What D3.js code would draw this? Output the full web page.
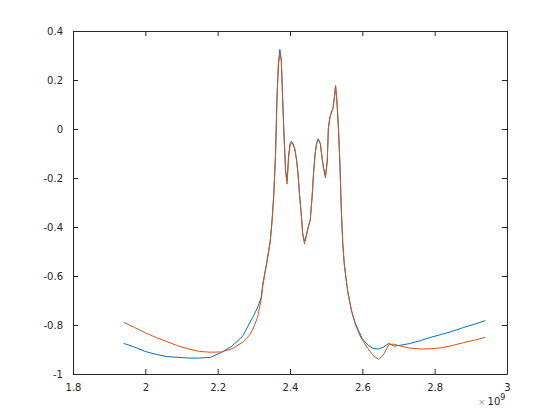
<!DOCTYPE html>
<html>
<head>
<meta charset="utf-8">
<script src="https://cdn.jsdelivr.net/npm/d3@7"></script>
<style>
  body { margin: 0; background: #fff; }
  svg text { font-family: "DejaVu Sans", sans-serif; font-size: 10px; fill: #262626; }
</style>
</head>
<body>
<script>
// frequency in units of 1e9 (Hz)
var freq = [1.94, 1.97, 2.00, 2.03, 2.06, 2.09, 2.12, 2.15, 2.18, 2.21, 2.24, 2.27, 2.29, 2.30, 2.31, 2.32,
  2.325, 2.33, 2.335, 2.34, 2.345, 2.35, 2.355, 2.36, 2.364, 2.368, 2.372, 2.376, 2.38, 2.384, 2.388, 2.392,
  2.396, 2.40, 2.404, 2.408, 2.413, 2.418, 2.422, 2.426, 2.431, 2.435, 2.44, 2.445, 2.45, 2.456, 2.461, 2.465,
  2.469, 2.473, 2.478, 2.484, 2.489, 2.493, 2.498, 2.503, 2.506, 2.51, 2.514, 2.519, 2.523, 2.526, 2.53, 2.534,
  2.538, 2.542, 2.546, 2.55, 2.555, 2.56, 2.57, 2.58, 2.59, 2.60, 2.615, 2.63, 2.645, 2.66, 2.673, 2.687,
  2.70, 2.73, 2.76, 2.79, 2.82, 2.85, 2.88, 2.91, 2.94];

var blueVals = [-0.875, -0.890, -0.908, -0.920, -0.929, -0.932, -0.935, -0.935, -0.932, -0.912, -0.886, -0.844, -0.787, -0.760, -0.730, -0.690,
  -0.630, -0.590, -0.550, -0.505, -0.460, -0.380, -0.270, -0.100, 0.130, 0.270, 0.325, 0.280, 0.110, -0.045, -0.170, -0.210,
  -0.110, -0.060, -0.050, -0.062, -0.080, -0.125, -0.180, -0.260, -0.345, -0.425, -0.458, -0.435, -0.400, -0.370, -0.280, -0.180,
  -0.105, -0.062, -0.040, -0.060, -0.120, -0.160, -0.190, -0.130, 0.000, 0.045, 0.066, 0.085, 0.135, 0.175, 0.110, 0.000,
  -0.140, -0.330, -0.470, -0.550, -0.610, -0.665, -0.740, -0.790, -0.825, -0.855, -0.882, -0.896, -0.898, -0.889, -0.875, -0.886,
  -0.884, -0.876, -0.864, -0.850, -0.838, -0.825, -0.810, -0.797, -0.782];

var orangeVals = [-0.789, -0.810, -0.832, -0.851, -0.868, -0.885, -0.898, -0.908, -0.911, -0.910, -0.897, -0.870, -0.838, -0.808, -0.770, -0.700,
  -0.640, -0.595, -0.555, -0.510, -0.465, -0.385, -0.275, -0.110, 0.120, 0.260, 0.310, 0.280, 0.110, -0.045, -0.180, -0.225,
  -0.120, -0.070, -0.058, -0.058, -0.078, -0.125, -0.180, -0.262, -0.345, -0.428, -0.470, -0.440, -0.405, -0.372, -0.280, -0.185,
  -0.110, -0.065, -0.040, -0.062, -0.125, -0.165, -0.200, -0.135, 0.000, 0.045, 0.066, 0.085, 0.130, 0.178, 0.105, 0.000,
  -0.140, -0.335, -0.470, -0.552, -0.612, -0.668, -0.742, -0.795, -0.832, -0.862, -0.895, -0.925, -0.940, -0.918, -0.880, -0.878,
  -0.884, -0.894, -0.898, -0.897, -0.893, -0.883, -0.872, -0.862, -0.850];

var xTicks = [1.8, 2, 2.2, 2.4, 2.6, 2.8, 3];
var yTicks = [-1, -0.8, -0.6, -0.4, -0.2, 0, 0.2, 0.4];

var width = 560, height = 420;
var plotL = 73, plotR = 507, plotT = 31, plotB = 374;

var x = d3.scaleLinear().domain([1.8, 3]).range([plotL, plotR]);
var y = d3.scaleLinear().domain([-1, 0.4]).range([plotB, plotT]);

var svg = d3.select("body").append("svg")
    .attr("width", width)
    .attr("height", height);

var line = d3.line()
    .x(d => x(d[0]))
    .y(d => y(d[1]));

svg.append("path")
    .datum(freq.map((f, i) => [f, blueVals[i]]))
    .attr("fill", "none")
    .attr("stroke", "#0072BD")
    .attr("stroke-width", 1)
    .attr("d", line);

svg.append("path")
    .datum(freq.map((f, i) => [f, orangeVals[i]]))
    .attr("fill", "none")
    .attr("stroke", "#D95319")
    .attr("stroke-width", 1)
    .attr("d", line);

// axes, matlab style box with inward ticks
var fmt = d => String(d);

svg.append("g")
    .attr("transform", "translate(0," + plotB + ")")
    .call(d3.axisBottom(x).tickValues(xTicks).tickFormat(fmt).tickSizeInner(-5).tickSizeOuter(0).tickPadding(10));
svg.append("g")
    .attr("transform", "translate(0," + plotT + ")")
    .call(d3.axisTop(x).tickValues(xTicks).tickFormat("").tickSizeInner(-5).tickSizeOuter(0));
svg.append("g")
    .attr("transform", "translate(" + plotL + ",0)")
    .call(d3.axisLeft(y).tickValues(yTicks).tickFormat(fmt).tickSizeInner(-5).tickSizeOuter(0).tickPadding(10));
svg.append("g")
    .attr("transform", "translate(" + plotR + ",0)")
    .call(d3.axisRight(y).tickValues(yTicks).tickFormat("").tickSizeInner(-5).tickSizeOuter(0));

svg.selectAll(".domain, .tick line").attr("stroke", "#262626");
svg.selectAll(".tick text").attr("fill", "#262626").style("font-size", "10px");

// exponent label
var expo = svg.append("text")
    .attr("x", 478)
    .attr("y", 405)
    .style("font-size", "10px");
expo.append("tspan").text("\u00d7").style("fill", "#999").style("font-size", "9px");
expo.append("tspan").text("10").attr("dx", 2);
expo.append("tspan").text("9").attr("dy", -5).style("font-size", "8px");
</script>
</body>
</html>
